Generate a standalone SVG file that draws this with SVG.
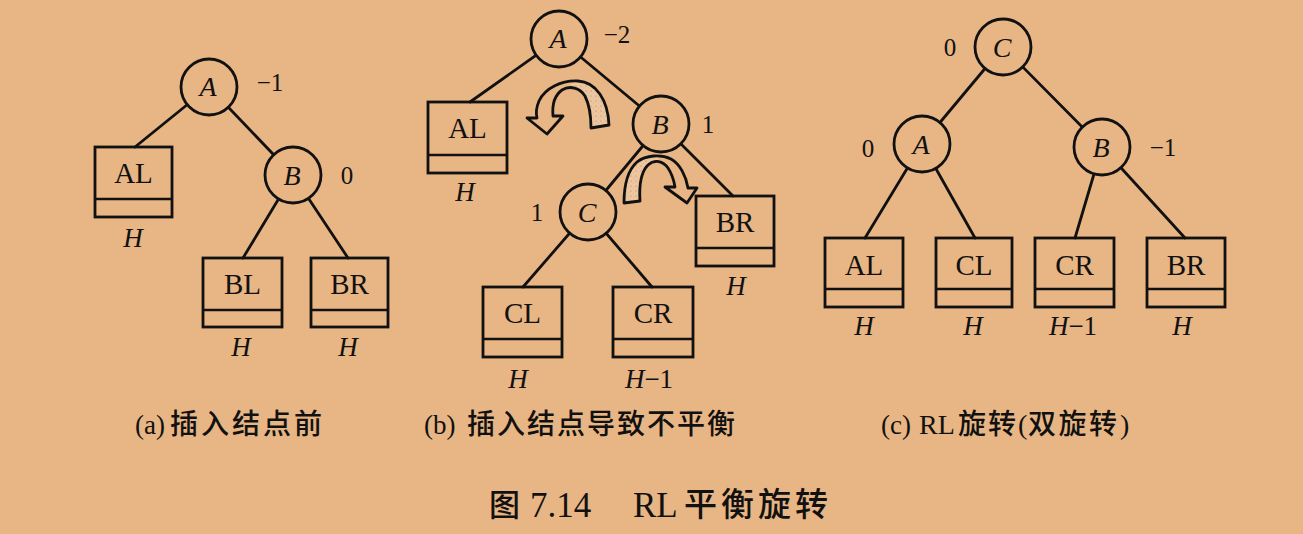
<svg xmlns="http://www.w3.org/2000/svg" width="1303" height="534" viewBox="0 0 1303 534">
<style>
.ln{stroke:#111;stroke-width:2.8;fill:none;stroke-linecap:round}
.nd circle{fill:#E8B584;stroke:#111;stroke-width:2.8}
.bx rect{fill:none;stroke:#111;stroke-width:2.8}
.bx line{stroke:#111;stroke-width:2.6}
.t{font-family:"Liberation Serif",serif;fill:#111;text-anchor:middle}
.it{font-style:italic;font-size:28px}
.bl{font-size:29px}
.h{font-style:italic;font-size:27px}
.num{font-size:25px}
.lat{font-family:"Liberation Serif",serif;fill:#111}
.cj{font-family:"Noto Sans CJK SC",sans-serif;fill:#111;font-weight:500}
.arw{fill:none;stroke:#111;stroke-width:2.8;stroke-linejoin:round}
</style>
<defs>
<pattern id="stip" width="5" height="5" patternUnits="userSpaceOnUse">
<rect width="5" height="5" fill="#EDC6A0"/>
<circle cx="1" cy="1" r="0.5" fill="#a07858"/>
<circle cx="3.5" cy="3" r="0.35" fill="#c09070"/>
</pattern>
</defs>
<rect width="1303" height="534" fill="#E8B584"/>

<g id="connectors">
<line class="ln" x1="209" y1="87" x2="135" y2="147"/>
<line class="ln" x1="209" y1="87" x2="293" y2="175"/>
<line class="ln" x1="293" y1="175" x2="243" y2="258"/>
<line class="ln" x1="293" y1="175" x2="348" y2="258"/>
<line class="ln" x1="559" y1="39" x2="470" y2="102"/>
<line class="ln" x1="559" y1="39" x2="661" y2="124"/>
<line class="ln" x1="661" y1="124" x2="588" y2="212"/>
<line class="ln" x1="661" y1="124" x2="733" y2="196"/>
<line class="ln" x1="588" y1="212" x2="523" y2="287"/>
<line class="ln" x1="588" y1="212" x2="652" y2="287"/>
<line class="ln" x1="1003" y1="47" x2="922" y2="144"/>
<line class="ln" x1="1003" y1="47" x2="1102" y2="147"/>
<line class="ln" x1="922" y1="144" x2="865" y2="238"/>
<line class="ln" x1="922" y1="144" x2="975" y2="238"/>
<line class="ln" x1="1102" y1="147" x2="1075" y2="238"/>
<line class="ln" x1="1102" y1="147" x2="1185" y2="238"/>
</g>

<g id="rotation-arrows">
<path fill="url(#stip)" d="M591 128 L609 125 C608 100 596 82 578 81 C574 81 571 83 569 86 C578 86 584 92 587 101 C590 110 591 119 591 128 Z"/>
<path class="arw" d="M591 128 L609 125 C608 100 596 82 578 81 C562 80 545 88 539 101 C536 108 536 114 537 118 L527 118 L547 134 L563 116 L553 116 C552 105 555 95 562 90 C570 85 580 88 585 96 C589 104 591 116 591 128 Z"/>
<path fill="url(#stip)" d="M624 203 L640 201 C639 186 641 172 648 165 C651 162 654 161 657 161 C660 158 659 156 655 156 C647 156 641 158 637 162 C628 170 624 185 624 203 Z"/>
<path class="arw" d="M624 203 L640 201 C639 186 641 172 648 165 C655 159 663 161 668 168 C672 174 674 181 675 187 L665 187 L687 203 L697 188 L688 188 C686 176 680 164 671 159 C661 154 646 155 637 162 C628 170 624 185 624 203 Z"/>
</g>

<!-- (a) -->
<g id="a-A" class="nd"><circle cx="209" cy="87" r="28"/><text class="t it" x="208" y="96">A</text><text class="t num" x="270" y="91">−1</text></g>
<g id="a-B" class="nd"><circle cx="293" cy="175" r="28"/><text class="t it" x="292" y="185">B</text><text class="t num" x="347" y="184">0</text></g>
<g id="a-AL" class="bx"><rect x="95" y="147" width="77" height="70"/><line x1="95" y1="199" x2="172" y2="199"/><text class="t bl" x="133.5" y="183">AL</text><text class="t h" x="133" y="247">H</text></g>
<g id="a-BL" class="bx"><rect x="203" y="258" width="79" height="69"/><line x1="203" y1="310" x2="282" y2="310"/><text class="t bl" x="242.5" y="294">BL</text><text class="t h" x="241" y="356">H</text></g>
<g id="a-BR" class="bx"><rect x="311" y="258" width="77" height="69"/><line x1="311" y1="310" x2="388" y2="310"/><text class="t bl" x="349.5" y="294">BR</text><text class="t h" x="348" y="356">H</text></g>

<!-- (b) -->
<g id="b-A" class="nd"><circle cx="559" cy="39" r="28"/><text class="t it" x="558" y="48">A</text><text class="t num" x="617" y="43">−2</text></g>
<g id="b-B" class="nd"><circle cx="661" cy="124" r="28"/><text class="t it" x="660" y="134">B</text><text class="t num" x="708" y="133">1</text></g>
<g id="b-C" class="nd"><circle cx="588" cy="212" r="28"/><text class="t it" x="587" y="222">C</text><text class="t num" x="537" y="221">1</text></g>
<g id="b-AL" class="bx"><rect x="428" y="102" width="79" height="71"/><line x1="428" y1="155" x2="507" y2="155"/><text class="t bl" x="467.5" y="138">AL</text><text class="t h" x="465" y="201">H</text></g>
<g id="b-BR" class="bx"><rect x="696" y="196" width="78" height="70"/><line x1="696" y1="248" x2="774" y2="248"/><text class="t bl" x="735" y="232">BR</text><text class="t h" x="736" y="295">H</text></g>
<g id="b-CL" class="bx"><rect x="483" y="287" width="79" height="70"/><line x1="483" y1="339" x2="562" y2="339"/><text class="t bl" x="522.5" y="323">CL</text><text class="t h" x="518" y="388">H</text></g>
<g id="b-CR" class="bx"><rect x="613" y="287" width="80" height="70"/><line x1="613" y1="339" x2="693" y2="339"/><text class="t bl" x="653" y="323">CR</text><text class="t h" x="649" y="388">H<tspan font-style="normal">−1</tspan></text></g>

<!-- (c) -->
<g id="c-C" class="nd"><circle cx="1003" cy="47" r="28"/><text class="t it" x="1002" y="57">C</text><text class="t num" x="950" y="56">0</text></g>
<g id="c-A" class="nd"><circle cx="922" cy="144" r="28"/><text class="t it" x="921" y="154">A</text><text class="t num" x="868" y="157">0</text></g>
<g id="c-B" class="nd"><circle cx="1102" cy="147" r="28"/><text class="t it" x="1101" y="157">B</text><text class="t num" x="1163" y="156">−1</text></g>
<g id="c-AL" class="bx"><rect x="825" y="238" width="78" height="69"/><line x1="825" y1="289" x2="903" y2="289"/><text class="t bl" x="864" y="275">AL</text><text class="t h" x="864" y="335">H</text></g>
<g id="c-CL" class="bx"><rect x="936" y="238" width="76" height="69"/><line x1="936" y1="289" x2="1012" y2="289"/><text class="t bl" x="974" y="275">CL</text><text class="t h" x="973" y="335">H</text></g>
<g id="c-CR" class="bx"><rect x="1035" y="238" width="79" height="69"/><line x1="1035" y1="289" x2="1114" y2="289"/><text class="t bl" x="1074.5" y="275">CR</text><text class="t h" x="1073" y="335">H<tspan font-style="normal">−1</tspan></text></g>
<g id="c-BR" class="bx"><rect x="1147" y="238" width="78" height="69"/><line x1="1147" y1="289" x2="1225" y2="289"/><text class="t bl" x="1186" y="275">BR</text><text class="t h" x="1182" y="335">H</text></g>

<g id="captions">
<text y="434"><tspan class="lat" x="135" font-size="27">(a)</tspan><tspan class="cj" x="170" font-size="28" letter-spacing="3">插入结点前</tspan></text>
<text y="434"><tspan class="lat" x="424" font-size="27">(b)</tspan><tspan class="cj" x="467" font-size="28" letter-spacing="2">插入结点导致不平衡</tspan></text>
<text y="434"><tspan class="lat" x="881" font-size="27">(c)</tspan><tspan class="lat" x="919" font-size="28">RL</tspan><tspan class="cj" x="958" font-size="28" letter-spacing="2">旋转</tspan><tspan class="lat" x="1018" font-size="28">(</tspan><tspan class="cj" x="1028" font-size="28" letter-spacing="2.5">双旋转</tspan><tspan class="lat" x="1120" font-size="28">)</tspan></text>
<text><tspan class="cj" x="489" y="516" font-size="31">图</tspan><tspan class="lat" x="530" y="517" font-size="35">7.14</tspan><tspan class="lat" x="633" y="517" font-size="35">RL</tspan><tspan class="cj" x="684" y="516" font-size="33" letter-spacing="4">平衡旋转</tspan></text>
</g>
</svg>
